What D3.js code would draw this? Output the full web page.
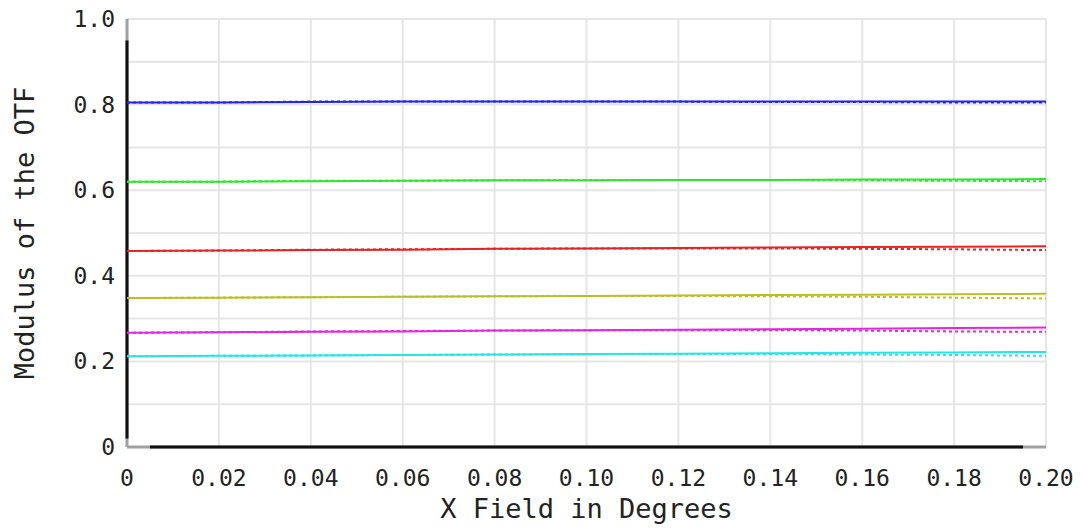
<!DOCTYPE html>
<html lang="en">
	<head>
		<meta charset="utf-8">
		<title>Modulus of the OTF vs field</title>
		<script type="text/javascript" src="https://cdn.jsdelivr.net/npm/d3@7"></script>
		<style type="text/css">
			body { margin: 0; background: #fff; }
			text { font-family: "DejaVu Sans Mono", monospace; fill: #222; }
		</style>
	</head>
	<body>
		<script type="text/javascript">
			//Width and height
			var w = 1084;
			var h = 529;
			var margin = {top: 19, right: 38, bottom: 82, left: 127};

			//Field positions (degrees)
			var fields = [0, 0.02, 0.04, 0.06, 0.08, 0.10, 0.12, 0.14, 0.16, 0.18, 0.20];
			var xTicks = [0, 0.02, 0.04, 0.06, 0.08, 0.10, 0.12, 0.14, 0.16, 0.18, 0.20];
			var xTickLabels = ["0", "0.02", "0.04", "0.06", "0.08", "0.10", "0.12", "0.14", "0.16", "0.18", "0.20"];
			var yTicks = [0, 0.2, 0.4, 0.6, 0.8, 1.0];
			var yTickLabels = ["0", "0.2", "0.4", "0.6", "0.8", "1.0"];
			var yGrid = [0, 0.1, 0.2, 0.3, 0.4, 0.5, 0.6, 0.7, 0.8, 0.9, 1.0];

			//Tangential (solid) and sagittal (dotted) per frequency
			var blueT    = [0.805, 0.805, 0.806, 0.807, 0.807, 0.807, 0.807, 0.807, 0.807, 0.807, 0.807];
			var blueS    = [0.805, 0.805, 0.807, 0.807, 0.807, 0.807, 0.807, 0.806, 0.806, 0.805, 0.805];
			var greenT   = [0.620, 0.620, 0.621, 0.622, 0.623, 0.623, 0.624, 0.624, 0.625, 0.625, 0.626];
			var greenS   = [0.620, 0.620, 0.622, 0.622, 0.623, 0.624, 0.624, 0.624, 0.623, 0.622, 0.621];
			var redT     = [0.458, 0.459, 0.460, 0.461, 0.463, 0.464, 0.465, 0.466, 0.467, 0.468, 0.469];
			var redS     = [0.458, 0.459, 0.461, 0.462, 0.463, 0.464, 0.464, 0.464, 0.463, 0.462, 0.460];
			var oliveT   = [0.348, 0.349, 0.350, 0.351, 0.352, 0.353, 0.354, 0.355, 0.356, 0.357, 0.358];
			var oliveS   = [0.348, 0.349, 0.350, 0.351, 0.352, 0.353, 0.353, 0.352, 0.351, 0.349, 0.347];
			var magentaT = [0.267, 0.268, 0.269, 0.270, 0.272, 0.273, 0.274, 0.275, 0.276, 0.278, 0.279];
			var magentaS = [0.267, 0.268, 0.270, 0.271, 0.272, 0.273, 0.273, 0.273, 0.272, 0.270, 0.269];
			var cyanT    = [0.212, 0.213, 0.214, 0.215, 0.216, 0.217, 0.218, 0.219, 0.220, 0.221, 0.222];
			var cyanS    = [0.212, 0.213, 0.214, 0.215, 0.216, 0.217, 0.217, 0.217, 0.216, 0.215, 0.213];

			var series = [
				{color: "#2424e6", t: blueT, s: blueS},
				{color: "#2ee62e", t: greenT, s: greenS},
				{color: "#e62424", t: redT, s: redS},
				{color: "#bdbd2a", t: oliveT, s: oliveS},
				{color: "#e624e6", t: magentaT, s: magentaS},
				{color: "#24e6e6", t: cyanT, s: cyanS}
			];

			var x = d3.scaleLinear()
				.domain([0, 0.2])
				.range([margin.left, w - margin.right]);
			var y = d3.scaleLinear()
				.domain([0, 1])
				.range([h - margin.bottom, margin.top]);

			//Create SVG element
			var svg = d3.select("body")
						.append("svg")
						.attr("width", w)
						.attr("height", h);

			//Grid
			svg.append("g")
				.selectAll("line")
				.data(xTicks)
				.enter()
				.append("line")
				.attr("x1", function(d) { return x(d); })
				.attr("x2", function(d) { return x(d); })
				.attr("y1", y(0))
				.attr("y2", y(1))
				.style("stroke", "#e6e6e6")
				.style("stroke-width", 2);

			svg.append("g")
				.selectAll("line")
				.data(yGrid)
				.enter()
				.append("line")
				.attr("x1", x(0))
				.attr("x2", x(0.2))
				.attr("y1", function(d) { return y(d); })
				.attr("y2", function(d) { return y(d); })
				.style("stroke", "#e6e6e6")
				.style("stroke-width", 2);

			//Axis lines (grey ends, black middle)
			svg.append("line")
				.attr("x1", x(0)).attr("x2", x(0.2))
				.attr("y1", y(0)).attr("y2", y(0))
				.style("stroke", "#a0a0a0").style("stroke-width", 3);
			svg.append("line")
				.attr("x1", x(0.005)).attr("x2", x(0.195))
				.attr("y1", y(0)).attr("y2", y(0))
				.style("stroke", "#111").style("stroke-width", 3);
			svg.append("line")
				.attr("x1", x(0)).attr("x2", x(0))
				.attr("y1", y(0)).attr("y2", y(1))
				.style("stroke", "#a0a0a0").style("stroke-width", 3);
			svg.append("line")
				.attr("x1", x(0)).attr("x2", x(0))
				.attr("y1", y(0.02)).attr("y2", y(0.95))
				.style("stroke", "#111").style("stroke-width", 3);

			//Lines
			var line = d3.line()
				.x(function(d, i) { return x(fields[i]); })
				.y(function(d) { return y(d); });

			series.forEach(function(sr) {
				svg.append("path")
					.attr("d", line(sr.s))
					.style("fill", "none")
					.style("stroke", sr.color)
					.style("stroke-width", 2)
					.style("stroke-dasharray", "3,3");
				svg.append("path")
					.attr("d", line(sr.t))
					.style("fill", "none")
					.style("stroke", sr.color)
					.style("stroke-width", 2);
			});

			//Tick labels
			svg.append("g")
				.selectAll("text")
				.data(xTicks)
				.enter()
				.append("text")
				.attr("x", function(d) { return x(d); })
				.attr("y", 486)
				.attr("text-anchor", "middle")
				.style("font-size", "23px")
				.text(function(d, i) { return xTickLabels[i]; });

			svg.append("g")
				.selectAll("text")
				.data(yTicks)
				.enter()
				.append("text")
				.attr("x", 115)
				.attr("y", function(d) { return y(d) + 8; })
				.attr("text-anchor", "end")
				.style("font-size", "23px")
				.text(function(d, i) { return yTickLabels[i]; });

			//Axis titles
			svg.append("text")
				.attr("x", x(0.1))
				.attr("y", 518)
				.attr("text-anchor", "middle")
				.style("font-size", "27px")
				.text("X Field in Degrees");

			svg.append("text")
				.attr("transform", "translate(34," + y(0.5) + ") rotate(-90)")
				.attr("text-anchor", "middle")
				.style("font-size", "27px")
				.text("Modulus of the OTF");
		</script>
	</body>
</html>
